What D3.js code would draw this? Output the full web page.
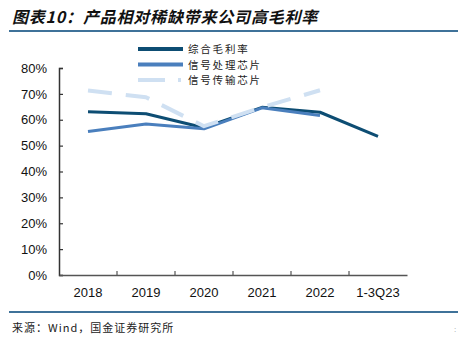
<!DOCTYPE html>
<html><head><meta charset="utf-8">
<script src="https://cdn.jsdelivr.net/npm/d3@7"></script>
<style>
html,body{margin:0;padding:0;background:#fff;}
svg{display:block;}
</style></head>
<body>
<script>
const categories = ["2018","2019","2020","2021","2022","1-3Q23"];
const seriesNames = ["综合毛利率","信号处理芯片","信号传输芯片"];
const grossMargin = [63.1, 62.3, 56.9, 64.8, 62.9, 53.6];
const processingChip = [55.5, 58.4, 56.5, 64.6, 61.6, null];
const transmissionChip = [71.3, 68.7, 57.5, 64.8, 71.4, null];
const yTicks = [0,10,20,30,40,50,60,70,80];

const W = 458, H = 338;
const svg = d3.select("body").append("svg").attr("width", W).attr("height", H);

// title
svg.append("text").attr("x", 12).attr("y", 23)
  .attr("font-family", "'Noto Sans CJK SC', sans-serif")
  .attr("font-size", 16).attr("font-weight", "bold").attr("font-style", "italic")
  .attr("letter-spacing", 0.8).attr("fill", "#111")
  .text("图表10：产品相对稀缺带来公司高毛利率");
svg.append("line").attr("x1", 9).attr("x2", W).attr("y1", 31).attr("y2", 31)
  .attr("stroke", "#3f7299").attr("stroke-width", 2);

// footer
svg.append("line").attr("x1", 9).attr("x2", W).attr("y1", 312).attr("y2", 312)
  .attr("stroke", "#3f7299").attr("stroke-width", 2);
svg.append("text").attr("x", 12).attr("y", 332)
  .attr("font-family", "'Noto Sans CJK SC', sans-serif")
  .attr("font-size", 11).attr("letter-spacing", 1).attr("fill", "#222")
  .text("来源：Wind，国金证券研究所");
svg.append("text").attr("x", 454).attr("y", 332)
  .attr("font-family", "sans-serif").attr("font-size", 8).attr("fill", "#999").text(":");

const x = d3.scaleBand().domain(categories).range([59, 407]);
const y = d3.scaleLinear().domain([0, 80]).range([275, 68]);

// y axis
const yAxis = svg.append("g").attr("transform", "translate(59,0)")
  .call(d3.axisLeft(y).tickValues(yTicks).tickSize(-4).tickPadding(12).tickFormat(d => d + "%"));
yAxis.select(".domain").attr("stroke", "#333").attr("stroke-width", 1.5);
yAxis.selectAll(".tick line").attr("stroke", "#333").attr("stroke-width", 1.2);
yAxis.selectAll("text").attr("font-family", "'Liberation Sans', Arial, sans-serif")
  .attr("font-size", 13).attr("fill", "#111");

// x axis
const xAxis = svg.append("g").attr("transform", "translate(0,275)")
  .call(d3.axisBottom(x).tickSize(0).tickPadding(13));
xAxis.select(".domain").attr("stroke", "#555").attr("stroke-width", 1.5);
xAxis.selectAll("text").attr("font-family", "'Liberation Sans', Arial, sans-serif")
  .attr("font-size", 13).attr("fill", "#111");
// boundary ticks
const bounds = categories.slice(1).map(c => x(c));
svg.append("g").selectAll("line").data(bounds).join("line")
  .attr("x1", d => d).attr("x2", d => d).attr("y1", 275).attr("y2", 271)
  .attr("stroke", "#555").attr("stroke-width", 1.2);

const line = d3.line()
  .defined(d => d != null)
  .x((d, i) => x(categories[i]) + x.bandwidth() / 2)
  .y(d => y(d));

const styles = [
  {data: grossMargin, color: "#0d4d73", width: 3, dash: null},
  {data: processingChip, color: "#4a7fbd", width: 3, dash: null},
  {data: transmissionChip, color: "#cfe0f2", width: 4, dash: "24,14"}
];

styles.forEach(s => {
  svg.append("path").datum(s.data).attr("d", line)
    .attr("fill", "none").attr("stroke", s.color).attr("stroke-width", s.width)
    .attr("stroke-linejoin", "round")
    .attr("stroke-dasharray", s.dash);
});

// legend
const legY = [49, 64.5, 80];
seriesNames.forEach((n, i) => {
  const s = styles[i];
  svg.append("line").attr("x1", 138).attr("x2", 183).attr("y1", legY[i]).attr("y2", legY[i])
    .attr("stroke", s.color).attr("stroke-width", 4)
    .attr("stroke-dasharray", i === 2 ? "27,13,3,10" : null);
  svg.append("text").attr("x", 188).attr("y", legY[i] + 4)
    .attr("font-family", "'Noto Sans CJK SC', sans-serif")
    .attr("font-size", 10.5).attr("letter-spacing", 1.8).attr("fill", "#222")
    .text(n);
});
</script>
</body></html>
